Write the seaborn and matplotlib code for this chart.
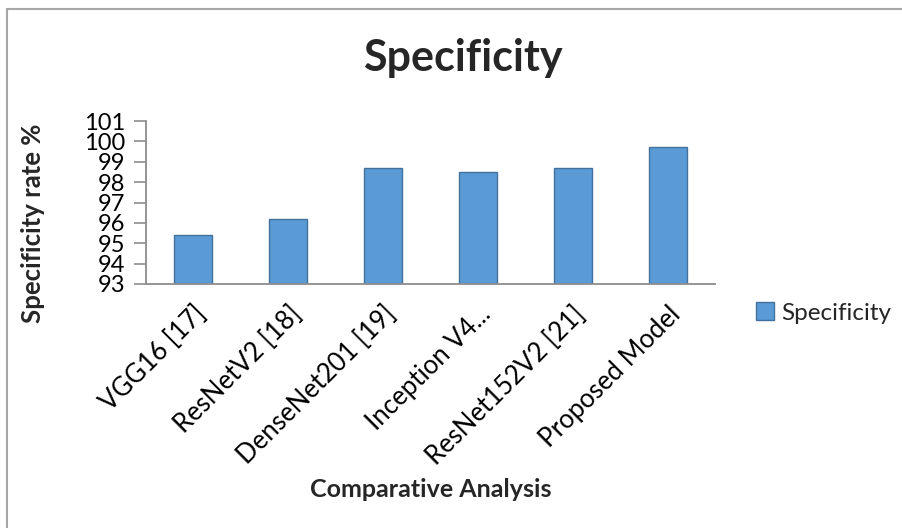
import matplotlib
matplotlib.use("Agg")
import matplotlib.pyplot as plt
from matplotlib.lines import Line2D
import seaborn as sns
import pandas as pd

# Comparative specificity of the evaluated models
models = ["VGG16 [17]", "ResNetV2 [18]", "DenseNet201 [19]", "Inception V4...",
          "ResNet152V2 [21]", "Proposed Model"]
specificity = [95.4, 96.2, 98.7, 98.5, 98.7, 99.7]
y_ticks = [93, 94, 95, 96, 97, 98, 99, 100, 101]

df = pd.DataFrame({"Model": models, "Specificity": specificity})

sns.set_style("white")
plt.rcParams["font.family"] = ["Lato", "DejaVu Sans"]

W, H = 902, 528
fig = plt.figure(figsize=(W / 100, H / 100), dpi=100)
ax = fig.add_axes([146 / W, 1 - 284 / H, (715 - 146) / W, (284 - 121) / H])

bar_color = "#5B9BD5"
edge_color = "#41719C"
sns.barplot(data=df, x="Model", y="Specificity", color=bar_color, width=0.4,
            edgecolor=edge_color, linewidth=1.0, label="Specificity", ax=ax,
            saturation=1)

ax.set_ylim(93, 101)
ax.set_xlim(-0.5, len(models) - 0.5)
ax.set_yticks(y_ticks)
ax.set_yticklabels([str(t) for t in y_ticks], fontsize=17, color="#000000")
ax.set_xticks(range(len(models)))
ax.set_xticklabels(models, rotation=45, ha="right", rotation_mode="anchor",
                   fontsize=18.5, color="#000000")

axis_gray = "#8C8C8C"
for side in ["top", "right"]:
    ax.spines[side].set_visible(False)
for side in ["left", "bottom"]:
    ax.spines[side].set_color(axis_gray)
    ax.spines[side].set_linewidth(1.3)
ax.tick_params(axis="y", which="major", left=True, length=9, width=1.2,
               color=axis_gray, pad=6)
ax.tick_params(axis="x", which="major", bottom=False, pad=9)

ax.set_xlabel("Comparative Analysis", fontsize=18, fontweight="bold")
ax.set_ylabel("Specificity rate %", fontsize=18.5, fontweight="bold")
ax.yaxis.set_label_coords(-(146 - 45) / (715 - 146), (284 - 223) / (284 - 121))
ax.xaxis.set_label_coords(0.5, -(478 - 284) / (284 - 121))

fig.text(463 / W, 1 - 58 / H, "Specificity", fontsize=31, fontweight="bold",
         ha="center", va="center")

leg = ax.legend(loc="center left", bbox_to_anchor=(756 / W, 1 - 313 / H),
                bbox_transform=fig.transFigure, frameon=False, fontsize=17.5,
                handlelength=0.75, handleheight=0.75, handletextpad=0.3,
                borderaxespad=0, borderpad=0)

# Chart-area outline (left and top edges)
outline = dict(transform=fig.transFigure, color="#A6A6A6", linewidth=1.5)
fig.add_artist(Line2D([7 / W, 7 / W], [0, 1 - 9 / H], **outline))
fig.add_artist(Line2D([7 / W, 1], [1 - 9 / H, 1 - 9 / H], **outline))

fig.savefig("out.png", dpi=100)
